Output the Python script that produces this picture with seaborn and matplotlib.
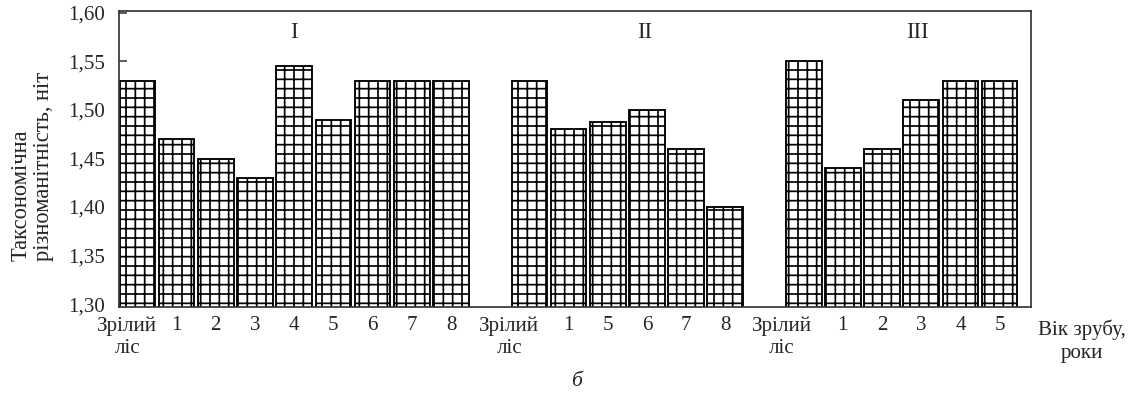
import numpy as np
import pandas as pd
import seaborn as sns
import matplotlib
matplotlib.use("Agg")
import matplotlib.pyplot as plt
import matplotlib.transforms as mtransforms
from matplotlib.ticker import FuncFormatter

# --- data ---
group_1_labels = ["Зрілий\nліс", "1", "2", "3", "4", "5", "6", "7", "8"]
group_1_values = [1.53, 1.47, 1.45, 1.43, 1.545, 1.49, 1.53, 1.53, 1.53]

group_2_labels = ["Зрілий\nліс", "1", "5", "6", "7", "8"]
group_2_values = [1.53, 1.48, 1.488, 1.50, 1.46, 1.40]

group_3_labels = ["Зрілий\nліс", "1", "2", "3", "4", "5"]
group_3_values = [1.55, 1.44, 1.46, 1.51, 1.53, 1.53]

group_names = ["I", "II", "III"]
y_ticks = [1.30, 1.35, 1.40, 1.45, 1.50, 1.55, 1.60]

sns.set_theme(style="white")
plt.rcParams["font.family"] = ["Liberation Serif", "DejaVu Serif"]
plt.rcParams["hatch.linewidth"] = 1.1

# one empty slot between groups
groups = [(group_1_labels, group_1_values), (group_2_labels, group_2_values),
          (group_3_labels, group_3_values)]
rows = []
start = 0
centers = []
for gi, (labs, vals) in enumerate(groups):
    for k, (lab, v) in enumerate(zip(labs, vals)):
        rows.append({"pos": start + k, "label": lab, "value": v, "group": group_names[gi]})
    centers.append(start + (len(labs) - 1) / 2)
    start += len(labs) + 1
df = pd.DataFrame(rows)

DPI = 112
FS = 13.5
fig = plt.figure(figsize=(1135 / DPI, 393 / DPI), dpi=DPI)
ax = fig.add_axes([119 / 1135, 1 - 307 / 393, 912 / 1135, 296 / 393])

sns.barplot(data=df, x="pos", y="value", native_scale=True, width=0.91,
            color="white", edgecolor="black", linewidth=1.2, hatch="++",
            saturation=1, ax=ax)
for p in ax.patches:
    p.set_facecolor("white")
    p.set_edgecolor("black")

ax.set_xlim(-0.47, 22.8)
ax.set_ylim(1.297, 1.602)
ax.set_axisbelow(True)

ax.set_xticks(df["pos"])
ax.set_xticklabels(df["label"], fontsize=FS, linespacing=1.25,
                   multialignment="center")
ax.tick_params(axis="x", length=0, pad=6)
# the "Зрілий ліс" labels sit a bit left of their bars in the original
shift = iter([-10, -20, -22])
for lbl in ax.get_xticklabels():
    if lbl.get_text().startswith("Зрілий"):
        dx = next(shift)
        lbl.set_transform(lbl.get_transform() +
                          mtransforms.ScaledTranslation(dx / DPI, 0, fig.dpi_scale_trans))

ax.set_yticks(y_ticks)
ax.yaxis.set_major_formatter(FuncFormatter(lambda v, _: f"{v:.2f}".replace(".", ",")))
ax.tick_params(axis="y", left=True, direction="in", length=5, width=1,
               color="#333333", pad=9, labelsize=FS)
ax.set_xlabel("")
ax.set_ylabel("")

for sp in ax.spines.values():
    sp.set_color("#333333")
    sp.set_linewidth(1.1)

group_x = [centers[0], centers[1] + 0.45, centers[2] + 0.4]
for name, gx in zip(group_names, group_x):
    ax.text(gx, 1.58, name, ha="center", va="center", fontsize=14.5)

fig.text(32 / 1135, 1 - 166 / 393, "Таксономічна\nрізноманітність, ніт",
         rotation=90, ha="center", va="center", multialignment="left",
         fontsize=14.5, linespacing=1.1)
fig.text(1082 / 1135, 1 - 320 / 393, "Вік зрубу,\nроки", ha="center", va="top",
         multialignment="center", fontsize=FS, linespacing=1.25)
fig.text(577 / 1135, 1 - 381 / 393, "б", ha="center", va="center",
         fontsize=14, style="italic")

fig.savefig("out.png", dpi=DPI)
